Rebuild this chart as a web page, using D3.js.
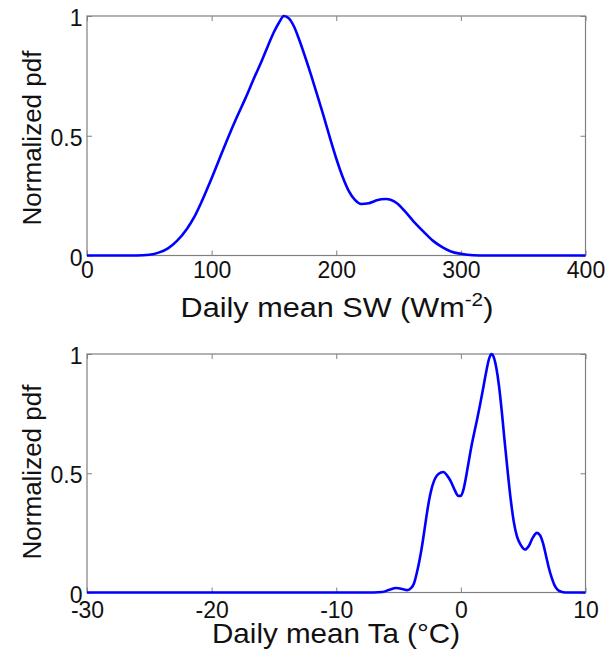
<!DOCTYPE html>
<html>
<head>
<meta charset="utf-8">
<script src="https://cdn.jsdelivr.net/npm/d3@7"></script>
<style>
  body { margin: 0; background: #fff; }
  svg text { font-family: "Liberation Sans", Arial, sans-serif; fill: #111; }
</style>
</head>
<body>
<svg id="chart"></svg>
<script>
const SVG_WIDTH = 613;
const SVG_HEIGHT = 649;
const AXIS_COLOR = "#808080";
const LINE_COLOR = "#0000ff";
const FONT = "'Liberation Sans', Arial, sans-serif";

// top panel: daily mean SW
const SW_X = [0, 40, 50, 58, 65, 72, 80, 86, 92, 99, 106, 113, 120, 127, 134, 140, 145, 150, 154, 158,
  162, 166, 170, 175, 180, 185, 190, 195, 200, 205, 210, 215, 220, 226, 231, 236, 240, 244, 249, 255,
  262, 270, 278, 285, 292, 300, 310, 320, 400];
const SW_PDF = [0, 0, 0.003, 0.013, 0.03, 0.06, 0.11, 0.16, 0.225, 0.31, 0.40, 0.49, 0.575, 0.655, 0.74, 0.81, 0.873, 0.933, 0.972, 1.0,
  0.99, 0.957, 0.905, 0.83, 0.75, 0.665, 0.58, 0.49, 0.405, 0.33, 0.27, 0.232, 0.215, 0.218, 0.228, 0.235, 0.236, 0.232, 0.217, 0.185,
  0.143, 0.1, 0.06, 0.035, 0.017, 0.007, 0.001, 0, 0];
const SW_TICKS = [0, 100, 200, 300, 400];

// bottom panel: daily mean Ta
const TA_X = [-30, -7, -6.3, -5.8, -5.2, -4.7, -4.3, -4.0, -3.75, -3.5, -3.3, -3.1, -2.9, -2.7, -2.5, -2.3, -2.05, -1.8, -1.4, -1.1,
  -0.8, -0.5, -0.2, 0.0, 0.2, 0.4, 0.6, 0.8, 1.05, 1.3, 1.55, 1.8, 2.05, 2.25, 2.45, 2.65, 2.85, 3.05, 3.3, 3.5,
  3.75, 4.0, 4.25, 4.5, 4.8, 5.15, 5.45, 5.75, 6.1, 6.35, 6.6, 6.85, 7.05, 7.3, 7.5, 7.75, 8.0, 8.4, 10];
const TA_PDF = [0, 0, 0.002, 0.01, 0.019, 0.015, 0.01, 0.018, 0.04, 0.09, 0.14, 0.2, 0.27, 0.34, 0.4, 0.445, 0.48, 0.497, 0.505, 0.49,
  0.465, 0.43, 0.405, 0.405, 0.43, 0.48, 0.54, 0.6, 0.665, 0.725, 0.79, 0.86, 0.93, 0.978, 1.0, 0.985, 0.94, 0.87, 0.75, 0.64,
  0.51, 0.39, 0.295, 0.235, 0.2, 0.18, 0.195, 0.228, 0.25, 0.24, 0.205, 0.15, 0.105, 0.06, 0.032, 0.012, 0.004, 0, 0];
const TA_TICKS = [-30, -20, -10, 0, 10];

const PDF_TICKS = [0, 0.5, 1];

function draw_panel(svg, p) {
    let x = d3.scaleLinear().domain(p.domain).range([87, 585.5]);
    let y = d3.scaleLinear().domain([0, 1]).range([p.bottom, p.top]);
    let g = svg.append("g");

    // box
    g.append("rect")
    .attr("x", x.range()[0])
    .attr("y", p.top)
    .attr("width", x.range()[1] - x.range()[0])
    .attr("height", p.bottom - p.top)
    .attr("fill", "none")
    .attr("stroke", AXIS_COLOR)
    .attr("stroke-width", 1.2);

    // plain hyphen minus like the original
    let fmt = d => String(d);

    let xb = g.append("g")
    .attr("transform", "translate(0," + p.bottom + ")")
    .call(d3.axisBottom(x).tickValues(p.ticks).tickSize(-5).tickPadding(p.tickPad).tickFormat(fmt));
    let xt = g.append("g")
    .attr("transform", "translate(0," + p.top + ")")
    .call(d3.axisTop(x).tickValues(p.ticks).tickSize(-5).tickFormat(""));
    let yl = g.append("g")
    .attr("transform", "translate(" + x.range()[0] + ",0)")
    .call(d3.axisLeft(y).tickValues(PDF_TICKS).tickSize(-5).tickPadding(4.5).tickFormat(fmt));
    let yr = g.append("g")
    .attr("transform", "translate(" + x.range()[1] + ",0)")
    .call(d3.axisRight(y).tickValues(PDF_TICKS).tickSize(-5).tickFormat(""));

    [xb, xt, yl, yr].forEach(a => {
        a.attr("font-family", null);
        a.select(".domain").remove();
        a.selectAll(".tick line").attr("stroke", AXIS_COLOR);
        a.selectAll("text")
        .style("font-family", FONT)
        .style("font-size", "23px")
        .attr("fill", "#111");
    });
    yl.selectAll("text").attr("dy", "0.42em");

    // curve
    let line = d3.line()
    .x((d, i) => x(p.xs[i]))
    .y(d => y(d))
    .curve(d3.curveMonotoneX);
    g.append("path")
    .datum(p.ys)
    .attr("d", line)
    .attr("fill", "none")
    .attr("stroke", LINE_COLOR)
    .attr("stroke-width", 2.6)
    .attr("stroke-linejoin", "round");

    // y label
    g.append("text")
    .attr("transform", "translate(41," + p.ylabelY + ") rotate(-90)")
    .attr("text-anchor", "middle")
    .style("font-family", FONT)
    .style("font-size", "26px")
    .text("Normalized pdf");

    // x label, stretched to the width seen in the figure
    let lab = g.append("text")
    .attr("text-anchor", "middle")
    .style("font-family", FONT)
    .style("font-size", "28px");
    lab.append("tspan").text(p.xlabel[0]);
    if (p.xlabel.length > 1) {
        lab.append("tspan").attr("dy", -11).style("font-size", "19px").text(p.xlabel[1]);
        lab.append("tspan").attr("dy", 11).text(p.xlabel[2]);
    }
    let w = lab.node().getBBox().width;
    let sx = p.xlabelWidth / w;
    lab.attr("transform", "translate(" + p.xlabelX + "," + p.xlabelY + ") scale(" + sx + ",1)");
}

window.onload = function init(e) {
    let svg = d3.select("#chart")
    .attr("width", SVG_WIDTH)
    .attr("height", SVG_HEIGHT);

    draw_panel(svg, {
        xs: SW_X, ys: SW_PDF, domain: [0, 400], ticks: SW_TICKS,
        top: 16, bottom: 255.5, tickPad: 6,
        xlabel: ["Daily mean SW (Wm", "-2", ")"],
        xlabelX: 337, xlabelY: 317, xlabelWidth: 313,
        ylabelY: 138
    });

    draw_panel(svg, {
        xs: TA_X, ys: TA_PDF, domain: [-30, 10], ticks: TA_TICKS,
        top: 354, bottom: 592.5, tickPad: 9,
        xlabel: ["Daily mean Ta (°C)"],
        xlabelX: 336, xlabelY: 643, xlabelWidth: 248,
        ylabelY: 472
    });
}
</script>
</body>
</html>
